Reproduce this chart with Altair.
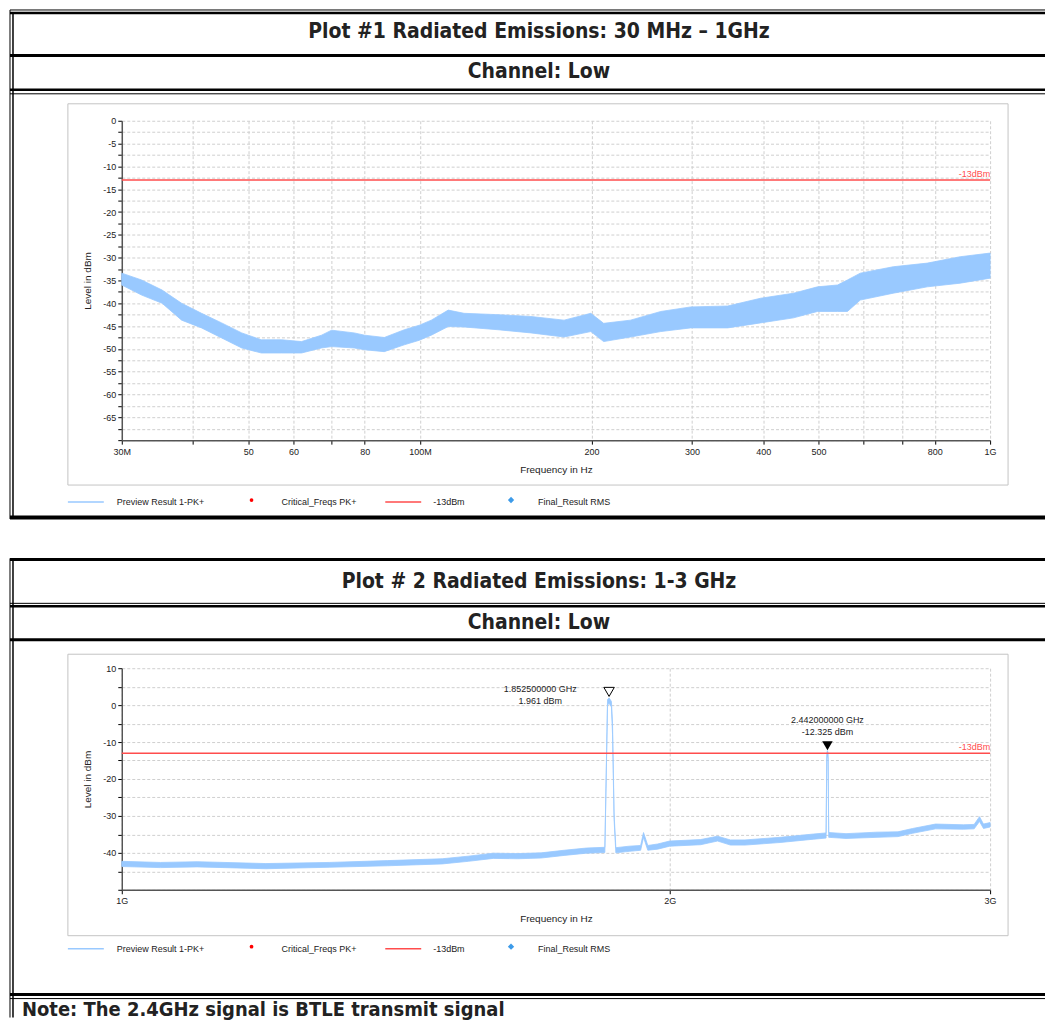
import altair as alt
import pandas as pd

# ---------------- data ----------------
p1_freq_mhz = [30, 32.5, 35.3, 38.2, 41.4, 44.9, 48.7, 52.7, 57.2, 62.0, 67.2, 70.0,
               76.7, 80, 86.6, 93.9, 99.8, 104.7, 112.1, 119.5, 137, 156.6, 179, 199.4,
               210, 234, 264.5, 298.5, 346.5, 395.8, 452, 498, 540, 562, 592, 676, 776,
               886, 1000]
p1_hi = [-33.4, -34.9, -37.1, -40.0, -42.2, -44.3, -46.5, -48.0, -48.0, -48.4, -47.0, -45.9,
         -46.5, -47.0, -47.5, -45.8, -44.8, -43.7, -41.5, -42.2, -42.5, -42.9, -43.7, -42.2,
         -44.4, -43.7, -41.8, -40.8, -40.6, -38.9, -37.8, -36.4, -36.0, -34.9, -33.4, -32.0,
         -31.2, -29.8, -29.0]
p1_lo = [-36.0, -38.2, -40.0, -43.7, -45.4, -47.6, -49.8, -50.9, -50.9, -50.9, -49.8, -49.5,
         -49.8, -50.2, -50.6, -49.1, -48.1, -47.0, -45.1, -45.2, -45.8, -46.5, -47.4, -46.2,
         -48.4, -47.4, -46.2, -45.4, -45.4, -44.3, -43.2, -41.8, -41.8, -41.8, -39.3, -37.8,
         -36.4, -35.6, -34.5]

p2_freq_ghz = [1.00, 1.05, 1.10, 1.20, 1.30, 1.40, 1.50, 1.55, 1.60, 1.65, 1.70, 1.75, 1.80,
               1.8426, 1.8489, 1.8525, 1.858, 1.8606, 1.8643, 1.8684,
               1.90, 1.928, 1.935, 1.9455, 1.97, 2.00, 2.08, 2.125, 2.16, 2.20, 2.30, 2.40,
               2.4378, 2.440, 2.442, 2.444, 2.4459,
               2.50, 2.60, 2.67, 2.72, 2.80, 2.90, 2.94, 2.96, 2.975, 3.00]
p2_hi = [-42.3, -42.6, -42.4, -42.9, -42.6, -42.1, -41.6, -40.9, -40.1, -40.2, -40.0, -39.3, -38.7,
         -38.5, 1.5, 1.961, 1.0, -5.0, -29.5, -38.6,
         -38.2, -38.0, -34.5, -38.0, -37.6, -36.8, -36.4, -35.5, -36.5, -36.5, -35.8, -34.9,
         -34.6, -13.0, -12.325, -13.0, -34.5,
         -34.8, -34.4, -34.3, -33.4, -32.2, -32.4, -32.3, -30.2, -32.2, -31.8]
p2_lo = [-43.7, -44.0, -43.8, -44.3, -43.9, -43.5, -43.0, -42.3, -41.5, -41.6, -41.4, -40.7, -40.1,
         -39.9, 0.0, 0.5, -0.5, -8.0, -31.0, -40.0,
         -39.6, -39.3, -35.8, -39.3, -39.0, -38.2, -37.8, -36.8, -37.9, -37.9, -37.2, -36.3,
         -36.0, -14.5, -13.5, -14.5, -35.8,
         -36.1, -35.8, -35.6, -34.7, -33.5, -33.6, -33.5, -31.5, -33.4, -33.0]

limit_dbm = [-13]
limit_label = ["-13dBm"]

marker_freq_ghz = [1.8525, 2.442]
marker_level_dbm = [1.961, -12.325]

p1_xticks = [30, 40, 50, 60, 70, 80, 100, 200, 300, 400, 500, 600, 700, 800, 1000]
p1_xlabels = ["30M", "", "50", "60", "", "80", "100M", "200", "300", "400", "500", "", "", "800", "1G"]
p2_xticks = [1, 2, 3]
p2_xlabels = ["1G", "2G", "3G"]
p1_yticks = [-70, -67.5, -65, -62.5, -60, -57.5, -55, -52.5, -50, -47.5, -45, -42.5, -40,
             -37.5, -35, -32.5, -30, -27.5, -25, -22.5, -20, -17.5, -15, -12.5, -10, -7.5,
             -5, -2.5, 0]
p2_yticks = [-50, -45, -40, -35, -30, -25, -20, -15, -10, -5, 0, 5, 10]

legend_labels = ["Preview Result 1-PK+", "Critical_Freqs PK+", "-13dBm", "Final_Result RMS"]
p1_titles = ["Plot #1 Radiated Emissions: 30 MHz \u2013 1GHz", "Channel: Low"]
p2_titles = ["Plot # 2 Radiated Emissions: 1-3 GHz", "Channel: Low"]
note_text = "Note: The 2.4GHz signal is BTLE transmit signal"

# ---------------- styling ----------------
TRACE = "#99c9ff"
RED = "#ff4d4d"
FONT = "Liberation Sans, Arial, sans-serif"
HFONT = "'Liberation Sans Narrow', 'Arial Narrow', 'DejaVu Sans Condensed', sans-serif"
PW = 870
RIGHT = 925
LEFT = -112

ONE = alt.Data(values=[{}])


def label_expr(vals, labels):
    expr = "''"
    for v, l in zip(vals, labels):
        expr = f"datum.value == {v} ? '{l}' : ({expr})"
    return expr


def hrule(y, w, x1=LEFT, x2=RIGHT):
    return alt.Chart(ONE).mark_rule(color="black", strokeWidth=w).encode(
        x=alt.value(x1), x2=alt.value(x2), y=alt.value(y))


def vrule(x, y1, y2, w):
    return alt.Chart(ONE).mark_rule(color="black", strokeWidth=w).encode(
        x=alt.value(x), y=alt.value(y1), y2=alt.value(y2))


def text_at(x, y, txt, size=9, bold=False, align="center", color="#222", font=FONT):
    return alt.Chart(ONE).mark_text(
        fontSize=size, fontWeight="bold" if bold else "normal", align=align,
        baseline="middle", color=color, font=font).encode(
        x=alt.value(x), y=alt.value(y), text=alt.value(txt))


def legend_layers(y):
    return [
        alt.Chart(ONE).mark_rule(color=TRACE, strokeWidth=1.5).encode(
            x=alt.value(-54), x2=alt.value(-18), y=alt.value(y)),
        text_at(-5, y, legend_labels[0], align="left"),
        alt.Chart(ONE).mark_point(shape="circle", filled=True, color="red", size=14, opacity=1).encode(
            x=alt.value(130), y=alt.value(y - 2)),
        text_at(160, y, legend_labels[1], align="left"),
        alt.Chart(ONE).mark_rule(color=RED, strokeWidth=1.5).encode(
            x=alt.value(264), x2=alt.value(300), y=alt.value(y)),
        text_at(312, y, legend_labels[2], align="left"),
        alt.Chart(ONE).mark_point(shape="diamond", filled=True, color="#3d9be9", size=40, opacity=1).encode(
            x=alt.value(390), y=alt.value(y - 2)),
        text_at(417, y, legend_labels[3], align="left"),
    ]


axis_common = dict(
    domainColor="#555", domainWidth=1.5, tickColor="#000", tickSize=4, tickWidth=1,
    gridColor="#cfcfcf", gridDash=[3, 2], gridWidth=1,
    labelFont=FONT, labelFontSize=9, labelColor="#222",
    titleFont=FONT, titleFontSize=10, titleFontWeight="normal", titleColor="#222",
)

# ---------------- panel 1 ----------------
H1 = 320
df1 = pd.DataFrame({"f": p1_freq_mhz, "lo": p1_lo, "hi": p1_hi})
x1 = alt.X("f:Q", scale=alt.Scale(type="log", domain=[30, 1000], nice=False),
           axis=alt.Axis(values=p1_xticks, labelExpr=label_expr(p1_xticks, p1_xlabels),
                         title="Frequency in Hz", labelPadding=3, titlePadding=8,
                         labelFlush=False, **axis_common))
y1 = alt.Y("lo:Q", scale=alt.Scale(domain=[-70, 0], nice=False, zero=False),
           axis=alt.Axis(values=p1_yticks,
                         labelExpr="datum.value % 5 == 0 && datum.value > -70 ? datum.value : ''",
                         title="Level in dBm", labelPadding=2, titlePadding=10,
                         labelFlush=False, **axis_common))

frame1 = alt.Chart(ONE).mark_rect(fillOpacity=0, stroke="#c4c4c4", strokeWidth=1).encode(
    x=alt.value(-54), x2=alt.value(888), y=alt.value(-17), y2=alt.value(365))
area1 = alt.Chart(df1).mark_area(color=TRACE, opacity=1, stroke=TRACE, strokeWidth=0.8).encode(
    x=x1, y=y1, y2="hi:Q")
lim1_df = pd.DataFrame({"lo": limit_dbm, "lab": limit_label})
limit1 = alt.Chart(lim1_df).mark_rule(color=RED, strokeWidth=1.5).encode(y=y1)
limtxt1 = alt.Chart(lim1_df).mark_text(color=RED, fontSize=9, font=FONT, align="right",
                                       baseline="bottom", dy=-1).encode(
    y=y1, x=alt.value(PW), text="lab:N")

deco1 = [
    hrule(-111, 1), hrule(-108, 2.5),
    text_at(418, -89, p1_titles[0], size=21, bold=True, font=HFONT),
    hrule(-65.5, 3),
    text_at(418, -49, p1_titles[1], size=21, bold=True, font=HFONT),
    hrule(-31, 2.5), hrule(-27, 1),
    vrule(LEFT, -111, 399, 1), vrule(LEFT + 3, -108, 399, 1.5),
    hrule(397.5, 4),
]
panel1 = alt.layer(frame1, *deco1, area1, limit1, limtxt1, *legend_layers(382)).properties(
    width=PW, height=H1)

# ---------------- panel 2 ----------------
H2 = 222
df2 = pd.DataFrame({"f": p2_freq_ghz, "lo": p2_lo, "hi": p2_hi})
x2 = alt.X("f:Q", scale=alt.Scale(type="log", domain=[1, 3], nice=False),
           axis=alt.Axis(values=p2_xticks, labelExpr=label_expr(p2_xticks, p2_xlabels),
                         title="Frequency in Hz", labelPadding=3, titlePadding=8,
                         labelFlush=False, **axis_common))
y2 = alt.Y("lo:Q", scale=alt.Scale(domain=[-50, 10], nice=False, zero=False),
           axis=alt.Axis(values=p2_yticks,
                         labelExpr="datum.value % 10 == 0 && datum.value > -50 ? datum.value : ''",
                         title="Level in dBm", labelPadding=2, titlePadding=10,
                         labelFlush=False, **axis_common))

frame2 = alt.Chart(ONE).mark_rect(fillOpacity=0, stroke="#c4c4c4", strokeWidth=1).encode(
    x=alt.value(-54), x2=alt.value(888), y=alt.value(-14), y2=alt.value(268))
area2 = alt.Chart(df2).mark_area(color=TRACE, opacity=1, stroke=TRACE, strokeWidth=0.8).encode(
    x=x2, y=y2, y2="hi:Q")
lim2_df = pd.DataFrame({"lo": limit_dbm, "lab": limit_label})
limit2 = alt.Chart(lim2_df).mark_rule(color=RED, strokeWidth=1.5).encode(y=y2)
limtxt2 = alt.Chart(lim2_df).mark_text(color=RED, fontSize=9, font=FONT, align="right",
                                       baseline="bottom", dy=-1).encode(
    y=y2, x=alt.value(PW), text="lab:N")

mk = pd.DataFrame({
    "f": marker_freq_ghz,
    "lo": marker_level_dbm,
    "l1": [f"{v:.9f} GHz" for v in marker_freq_ghz],
    "l2": [f"{v:.3f} dBm" for v in marker_level_dbm],
})
mk_open = alt.Chart(mk.iloc[[0]]).mark_point(shape="triangle-down", size=110, filled=True,
                                             fill="white", stroke="black", strokeWidth=1,
                                             opacity=1, yOffset=-6).encode(x=x2, y=y2)
mk_fill = alt.Chart(mk.iloc[[1]]).mark_point(shape="triangle-down", size=110, filled=True,
                                             color="black", opacity=1, yOffset=-5).encode(x=x2, y=y2)
mk1_t1 = alt.Chart(mk.iloc[[0]]).mark_text(fontSize=9, font=FONT, color="#222", dx=-69, dy=-9).encode(
    x=x2, y=y2, text="l1:N")
mk1_t2 = alt.Chart(mk.iloc[[0]]).mark_text(fontSize=9, font=FONT, color="#222", dx=-69, dy=3).encode(
    x=x2, y=y2, text="l2:N")
mk2_t1 = alt.Chart(mk.iloc[[1]]).mark_text(fontSize=9, font=FONT, color="#222", dy=-31).encode(
    x=x2, y=y2, text="l1:N")
mk2_t2 = alt.Chart(mk.iloc[[1]]).mark_text(fontSize=9, font=FONT, color="#222", dy=-19).encode(
    x=x2, y=y2, text="l2:N")

deco2 = [
    hrule(-109, 3),
    text_at(418, -86, p2_titles[0], size=21, bold=True, font=HFONT),
    hrule(-65, 1), hrule(-62, 2.5),
    text_at(418, -45, p2_titles[1], size=21, bold=True, font=HFONT),
    hrule(-28.5, 3),
    vrule(LEFT, -110, 350, 1), vrule(LEFT + 3, -108, 350, 1.5),
    hrule(327, 3), hrule(331, 1),
    text_at(-100, 342, note_text, size=20, bold=True, align="left", font=HFONT),
]
panel2 = alt.layer(frame2, *deco2, area2, limit2, limtxt2, mk_open, mk_fill,
                   mk1_t1, mk1_t2, mk2_t1, mk2_t2, *legend_layers(281)).properties(
    width=PW, height=H2)

chart = alt.vconcat(panel1, panel2, spacing=37.5).properties(
    padding={"left": 0, "top": 0, "right": 0, "bottom": 0}
).configure_view(strokeWidth=0)

chart.save("out.html", embed_options={"renderer": "svg", "actions": False})
